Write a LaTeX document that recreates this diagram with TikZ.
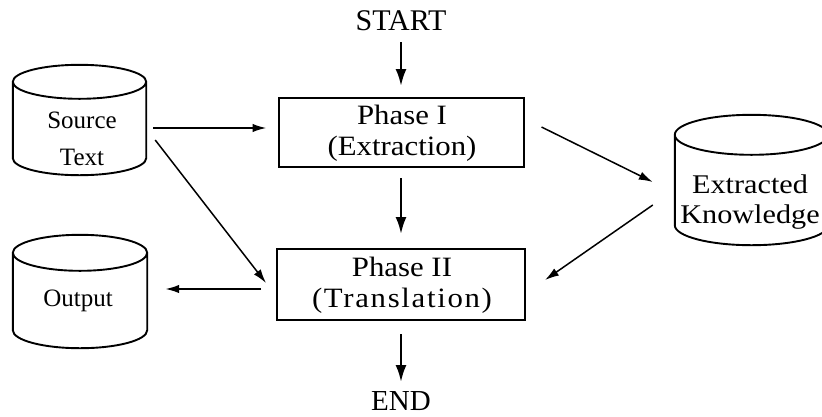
\documentclass[tikz,border=0pt]{standalone}
\usepackage{fontspec}
\setmainfont{Liberation Serif}
\usetikzlibrary{arrows.meta,calc}
\newcommand{\drawcyl}[2]{%
  \draw[cylline] let \p1=(#1.north west), \p2=(#1.south east),
      \n1={(\x2-\x1)/2}, \n2={#2pt}, \n3={(\x1+\x2)/2} in
    (\n3,\y1-\n2) ellipse [x radius=\n1, y radius=\n2]
    (\x1,\y1-\n2) -- (\x1,\y2+\n2)
    .. controls (\x1,\y2+0.4477*\n2) and (\n3-0.5523*\n1,\y2) .. (\n3,\y2)
    .. controls (\n3+0.5523*\n1,\y2) and (\x2,\y2+0.4477*\n2) .. (\x2,\y2+\n2)
    -- (\x2,\y1-\n2);
}
\begin{document}
\begin{tikzpicture}[x=1pt,y=-1pt,
  cylbox/.style={rectangle,draw=none,inner sep=0pt},
  cylline/.style={line width=1.9pt},
  phasebox/.style={rectangle,draw,line width=2pt,inner sep=0pt},
  lbl/.style={inner sep=0pt,anchor=base,align=center},
  varrow/.style={line width=2.4pt,-{Latex[length=17pt,width=11pt]}},
  darrow/.style={line width=1.5pt,-{Latex[length=14pt,width=8.5pt]}},
  harrow/.style={line width=1.9pt,-{Latex[length=14pt,width=8.5pt]}}]
\useasboundingbox (0,0) rectangle (822,416);
% cylinders
\node[cylbox,minimum width=133pt,minimum height=110pt] (src) at (79.5,120) {};
\drawcyl{src}{17}
\node[cylbox,minimum width=134pt,minimum height=113pt] (out) at (80,291.5) {};
\drawcyl{out}{18}
\node[cylbox,minimum width=153pt,minimum height=130pt] (ek) at (751.5,180) {};
\drawcyl{ek}{20}
\node[lbl,font=\fontsize{25}{37}\selectfont] (srct) at (82,165) {Source\\Text};
\node[lbl,font=\fontsize{25}{30}\selectfont] (outt) at (78,306) {Output};
\node[lbl,font=\fontsize{27}{30}\selectfont\addfontfeature{FakeStretch=1.12}] (ekt) at (750,223) {Extracted\\Knowledge};
% phases
\node[lbl,font=\fontsize{30}{36}\selectfont] (start) at (401,30) {START};
\node[phasebox,minimum width=245pt,minimum height=69pt] (p1) at (401,132.5) {};
\node[lbl,font=\fontsize{28}{31}\selectfont\addfontfeature{FakeStretch=1.1}] (p1t) at (402,155.5) {Phase I\\(Extraction)};
\node[phasebox,minimum width=248pt,minimum height=71pt] (p2) at (401,284.5) {};
\node[lbl,font=\fontsize{28}{31}\selectfont\addfontfeature{FakeStretch=1.1}] (p2t) at (402,307.5) {Phase II\\{\addfontfeature{LetterSpace=6}(Translation)}};
\node[lbl,font=\fontsize{29}{34}\selectfont] (end) at (401,410) {END};
% connectors
\draw[varrow] ([yshift=-12pt]start.base) -- ([yshift=11pt]p1.north);
\draw[varrow] ([yshift=-10pt]p1.south) -- ([yshift=14pt]p2.north);
\draw[varrow] ([yshift=-13pt]p2.south) -- ([yshift=28pt]end.base);
\draw[harrow] ([xshift=7pt,yshift=-8pt]src.east) -- ([xshift=-11pt,yshift=4.5pt]p1.west);
\draw[darrow] ([xshift=9pt,yshift=-20pt]src.east) -- ([xshift=-10pt,yshift=1.5pt]p2.west);
\draw[harrow] ([xshift=-15pt,yshift=-4.5pt]p2.west) -- ([xshift=18pt,yshift=2.5pt]out.east);
\draw[darrow] ([xshift=17pt,yshift=5.5pt]p1.east) -- ([xshift=-22pt,yshift=-2pt]ek.west);
\draw[darrow] ([xshift=-22pt,yshift=-25pt]ek.west) -- ([xshift=19pt,yshift=4.5pt]p2.east);
\end{tikzpicture}
\end{document}
